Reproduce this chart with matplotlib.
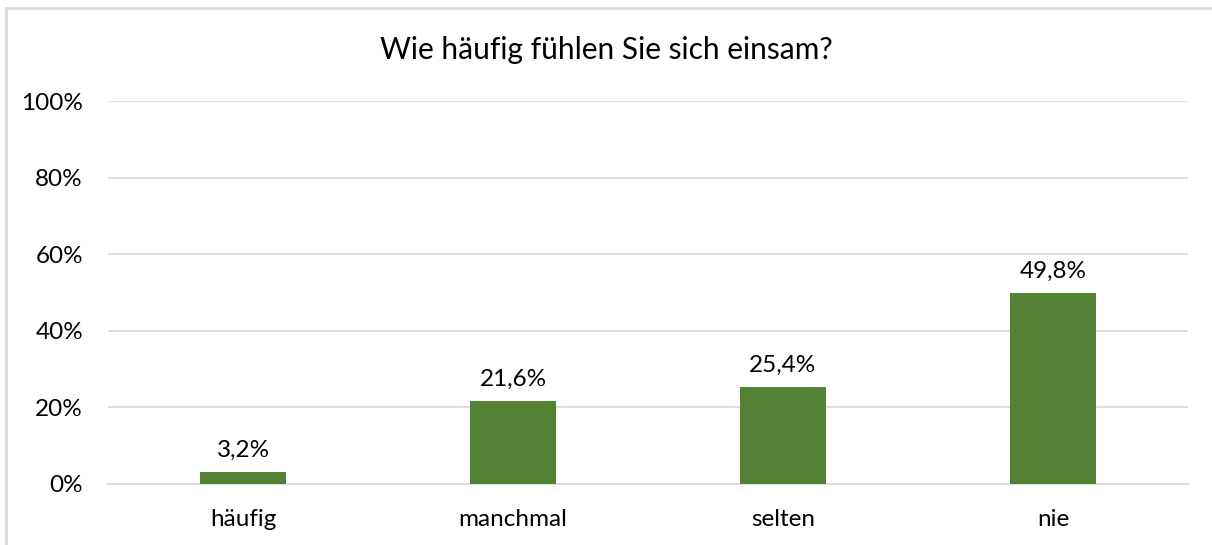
import matplotlib
matplotlib.use("Agg")
import matplotlib.pyplot as plt
from matplotlib.patches import Rectangle
from matplotlib.ticker import FuncFormatter

categories = ["häufig", "manchmal", "selten", "nie"]
values = [3.2, 21.6, 25.4, 49.8]
yticks = [0, 20, 40, 60, 80, 100]
title = "Wie häufig fühlen Sie sich einsam?"

plt.rcParams['font.family'] = ['Lato', 'DejaVu Sans']

fig = plt.figure(figsize=(12.12, 5.45), dpi=100)
fig.patches.append(Rectangle((6/1212, -0.1), 1.2, 1 - 8/545 + 0.1, transform=fig.transFigure,
                             fill=False, edgecolor="#d9d9d9", linewidth=2))
ax = fig.add_axes([108/1212, 1 - 484/545, 1080/1212, 383/545])
x = range(len(categories))
bars = ax.bar(x, values, width=0.315, color="#548235", zorder=3)
ax.set_xlim(-0.5, len(categories) - 0.5)
ax.set_ylim(0, 100)
ax.set_yticks(yticks)
ax.yaxis.set_major_formatter(FuncFormatter(lambda v, p: f"{int(v)}%"))
ax.set_xticks(list(x))
ax.set_xticklabels(categories)
ax.grid(axis="y", color="#d9d9d9", linewidth=1.3, zorder=0)
for s in ["top", "right", "left"]:
    ax.spines[s].set_visible(False)
ax.spines["bottom"].set_color("#d9d9d9")
ax.spines["bottom"].set_linewidth(1.3)
ax.tick_params(axis="both", length=0, labelsize=17.5, colors="#000000")
ax.tick_params(axis="y", pad=18)
ax.tick_params(axis="x", pad=18)
for b, v in zip(bars, values):
    ax.annotate(f"{v:.1f}%".replace(".", ","), (b.get_x() + b.get_width() / 2, v),
                xytext=(0, 8), textcoords="offset points", ha="center", va="bottom", fontsize=17.5)
fig.text(0.5, 1 - 50/545, title, ha="center", va="center", fontsize=21.5)
fig.savefig("out.png", dpi=100)
